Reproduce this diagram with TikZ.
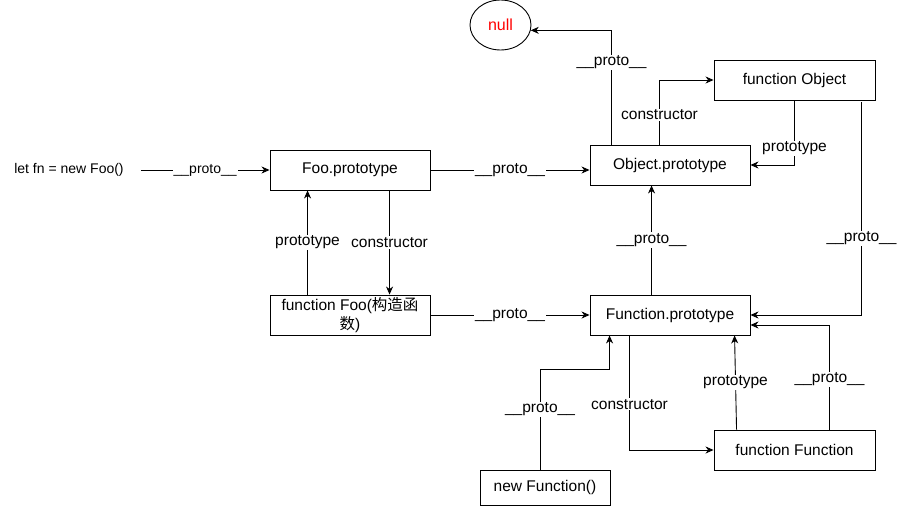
\documentclass[tikz,border=0pt]{standalone}
\usepackage{fontspec}
\setmainfont{Liberation Sans}
\newfontfamily\cjk{Noto Sans CJK SC}
\usepackage{tikz}
\usetikzlibrary{positioning,arrows,arrows.meta,shapes}
\newcommand{\protolbl}{\_\_proto\_\_}
\tikzset{
  box/.style={draw,line width=0.9pt,minimum width=160pt,minimum height=40pt,inner sep=2pt,font=\fontsize{15.5}{19}\selectfont},
  lbl/.style={fill=white,inner sep=1pt,font=\fontsize{15.5}{19}\selectfont},
  arr/.style={-{Stealth[length=8pt,width=7pt,inset=2.5pt]},line width=0.9pt}
}
\begin{document}
\begin{tikzpicture}[x=1pt,y=-1pt]
\useasboundingbox (0,0) rectangle (902,506);
\node[inner xsep=17pt,font=\fontsize{14}{17}\selectfont] (fn) at (69,170) {let fn = new Foo()};
\node[draw,ellipse,line width=0.9pt,minimum width=61pt,minimum height=50pt,text=red,font=\fontsize{16}{19}\selectfont] (null) at (500.5,25) {null};
\node[box] (foop) at (350,170) {Foo.prototype};
\node[box,align=center] (foo) at (350,315) {function Foo({\cjk 构造函}\\{\cjk 数})};
\node[box] (objp) at (670,165) {Object.prototype};
\node[box,minimum width=161pt] (obj) at (794.5,80) {function Object};
\node[box] (funp) at (670,315) {Function.prototype};
\node[box,minimum width=161pt] (fun) at (794.5,450) {function Function};
\node[box,minimum width=130pt,minimum height=35pt] (newfun) at (545,487.5) {new Function()};

\draw[arr] (fn) -- node[lbl,font=\fontsize{14}{17}\selectfont]{\protolbl} (foop);
\draw[arr] (foop.east) -- node[lbl]{\protolbl} (foop.east -| objp.west);
\draw[arr] (foo.east) -- node[lbl]{\protolbl} (foo.east -| funp.west);
\draw[arr] ([xshift=38pt]foo.north west) -- node[lbl]{prototype} ([xshift=38pt]foop.south west);
\draw[arr] ([xshift=120pt]foop.south west) -- node[lbl]{constructor} ([xshift=120pt]foo.north west);

\draw[arr] ([xshift=22pt]objp.north west) |- node[lbl,pos=0.36]{\protolbl} (null.-10);
\draw[arr] ([xshift=70pt]objp.north west) |- node[lbl,pos=0.23]{constructor} (obj.west);
\draw[arr] ([xshift=81pt]obj.south west) |- node[lbl,pos=0.37]{prototype} (objp.east);
\draw[arr] ([xshift=148pt,yshift=-2pt]obj.south west) |- node[lbl,pos=0.32]{\protolbl} (funp.east);
\draw[arr] ([xshift=62pt]funp.north west) -- node[lbl]{\protolbl} ([xshift=62pt]objp.south west);

\draw[arr] ([xshift=-5pt]newfun.north) -- node[lbl,pos=0.6]{\protolbl} ++(0,-100) -| ([xshift=20pt]funp.south west);
\draw[arr] ([xshift=40pt]funp.south west) |- node[lbl,pos=0.3]{constructor} (fun.west);
\draw[arr] ([xshift=23pt]fun.north west) -- node[lbl]{prototype} ([xshift=145pt]funp.south west);
\draw[arr] ([xshift=116pt]fun.north west) |- node[lbl,pos=0.24]{\protolbl} ([yshift=-10pt]funp.east);
\end{tikzpicture}
\end{document}
